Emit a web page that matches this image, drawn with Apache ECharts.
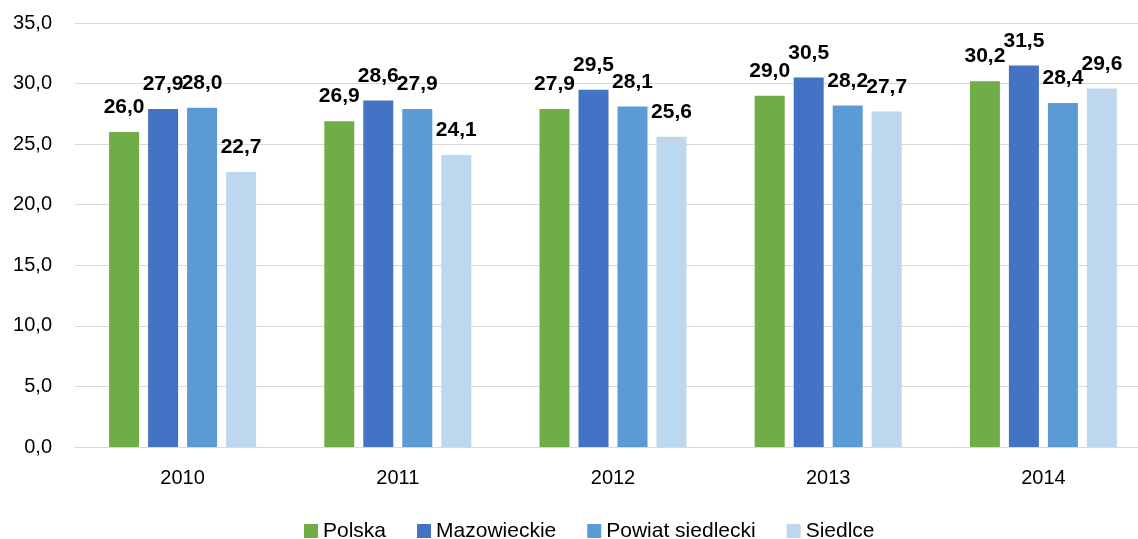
<!DOCTYPE html>
<html>
<head>
<meta charset="utf-8">
<script src="https://cdn.jsdelivr.net/npm/echarts@6/dist/echarts.min.js"></script>
<style>
  html, body { margin: 0; padding: 0; background: #fff; overflow: hidden; }
  #chart { width: 1160px; height: 539px; }
</style>
</head>
<body>
<div id="chart"></div>
<script>
var years = ['2010', '2011', '2012', '2013', '2014'];
var seriesNames = ['Polska', 'Mazowieckie', 'Powiat siedlecki', 'Siedlce'];
var polska = [26.0, 26.9, 27.9, 29.0, 30.2];
var mazowieckie = [27.9, 28.6, 29.5, 30.5, 31.5];
var powiat = [28.0, 27.9, 28.1, 28.2, 28.4];
var siedlce = [22.7, 24.1, 25.6, 27.7, 29.6];
var colors = ['#70AD47', '#4472C4', '#5B9BD5', '#BDD7EE'];

function fmt(v) {
    return v.toFixed(1).replace('.', ',');
}

var allData = [polska, mazowieckie, powiat, siedlce];
var series = [];
for (var i = 0; i < seriesNames.length; i++) {
    series.push({
        name: seriesNames[i],
        type: 'bar',
        data: allData[i],
        barWidth: 30,
        barGap: '30%',
        itemStyle: { color: colors[i] },
        label: {
            show: true,
            position: 'top',
            distance: 14,
            color: '#000',
            fontWeight: 'bold',
            fontSize: 21,
            fontFamily: 'Liberation Sans',
            formatter: function (p) { return fmt(p.value); }
        }
    });
}

// the plot runs past the right edge of the picture, so the div is wider than the window
var chart = echarts.init(document.getElementById('chart'));
chart.setOption({
    animation: false,
    color: colors,
    textStyle: { fontFamily: 'Liberation Sans' },
    grid: { left: 75, top: 23, width: 1076, height: 424 },
    legend: {
        data: seriesNames,
        left: 304,
        top: 519,
        padding: 0,
        icon: 'rect',
        itemWidth: 14,
        itemHeight: 14,
        itemGap: 31,
        textStyle: { fontSize: 21, lineHeight: 24, color: '#000', fontFamily: 'Liberation Sans' }
    },
    xAxis: {
        type: 'category',
        data: years,
        axisLine: { lineStyle: { color: '#d9d9d9', width: 1 } },
        axisTick: { show: false },
        axisLabel: { color: '#000', fontSize: 20, margin: 21 }
    },
    yAxis: {
        type: 'value',
        min: 0,
        max: 35,
        interval: 5,
        axisLine: { show: false },
        axisTick: { show: false },
        splitLine: { lineStyle: { color: '#d9d9d9', width: 1 } },
        axisLabel: {
            color: '#000',
            fontSize: 20,
            margin: 23,
            formatter: function (v) { return fmt(v); }
        }
    },
    series: series
});
</script>
</body>
</html>
